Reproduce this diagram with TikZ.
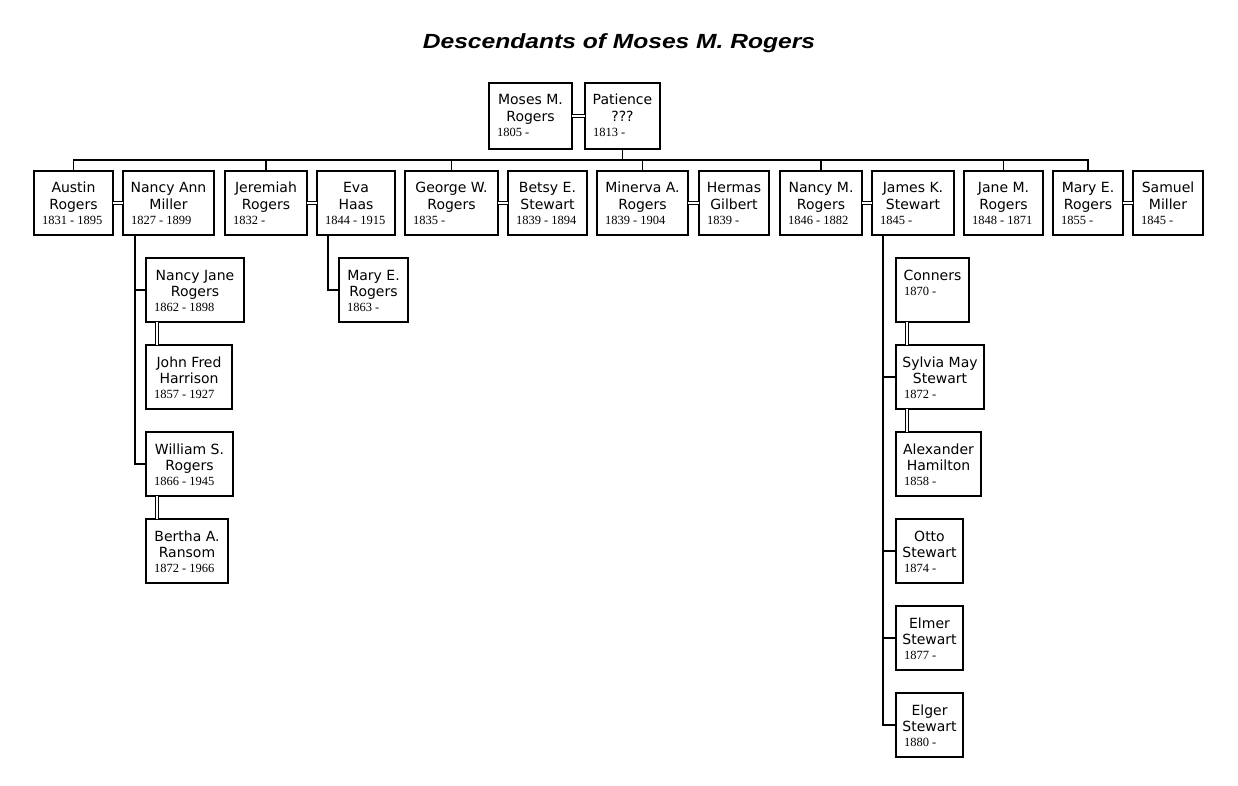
\documentclass[tikz,border=0pt]{standalone}
\usepackage{fontspec}
\usepackage{graphicx}
\newfontfamily\namefam{DejaVu Sans}
\newfontfamily\datefam{Liberation Serif}
\newfontfamily\titlefam{Liberation Sans}
\newcommand{\namefont}{\namefam\fontsize{14}{16.5}\selectfont}
\newcommand{\datefont}{\datefam\fontsize{12.5}{15}\selectfont}
% name, x, y, width, height, names, date
\newcommand{\person}[7]{%
  \node[pbox, anchor=north west] (#1) at (#2,#3) {%
    \parbox[c][#5pt][t]{#4pt}{%
      {\centering\namefont\rule{0pt}{22pt}#6\par}%
      {\raggedright\datefont\hspace*{8pt}#7\par}}};}
\begin{document}
\begin{tikzpicture}[x=1pt,y=-1pt,
  pbox/.style={draw, line width=1.2pt, inner sep=0pt, outer sep=0pt, rectangle},
  conn/.style={line width=1.2pt},
  dbl/.style={double, double distance=2.2pt, line width=1.1pt}]
\useasboundingbox (0,0) rectangle (1238,786);
\fill[white] (0,0) rectangle (1238,786);

\node[anchor=base] (title) at (619,49) {\titlefam\bfseries\itshape\fontsize{20.5}{24}\selectfont\scalebox{1.2}[1]{Descendants of Moses M. Rogers}};

\person{moses}{489}{83}{83}{66}{Moses M.\\Rogers}{1805 -}
\person{patience}{585}{83}{75}{66}{Patience\\???}{1813 -}

\person{austin}{34}{171}{79}{64}{Austin\\Rogers}{1831 - 1895}
\person{nancyann}{123}{171}{91}{64}{Nancy Ann\\Miller}{1827 - 1899}
\person{jeremiah}{225}{171}{82}{64}{Jeremiah\\Rogers}{1832 -}
\person{eva}{317}{171}{78}{64}{Eva\\Haas}{1844 - 1915}
\person{george}{405}{171}{93}{64}{George W.\\Rogers}{1835 -}
\person{betsy}{508}{171}{79}{64}{Betsy E.\\Stewart}{1839 - 1894}
\person{minerva}{597}{171}{91}{64}{Minerva A.\\Rogers}{1839 - 1904}
\person{hermas}{699}{171}{70}{64}{Hermas\\Gilbert}{1839 -}
\person{nancym}{780}{171}{82}{64}{Nancy M.\\Rogers}{1846 - 1882}
\person{james}{872}{171}{82}{64}{James K.\\Stewart}{1845 -}
\person{jane}{964}{171}{79}{64}{Jane M.\\Rogers}{1848 - 1871}
\person{marye}{1053}{171}{70}{64}{Mary E.\\Rogers}{1855 -}
\person{samuel}{1133}{171}{70}{64}{Samuel\\Miller}{1845 -}

\person{nancyjane}{146}{258}{98}{64}{Nancy Jane\\Rogers}{1862 - 1898}
\person{johnfred}{146}{345}{86}{64}{John Fred\\Harrison}{1857 - 1927}
\person{william}{146}{432}{87}{64}{William S.\\Rogers}{1866 - 1945}
\person{bertha}{146}{519}{82}{64}{Bertha A.\\Ransom}{1872 - 1966}

\person{maryechild}{339}{258}{69}{64}{Mary E.\\Rogers}{1863 -}

\person{conners}{896}{258}{73}{64}{Conners}{1870 -}
\person{sylvia}{896}{345}{88}{64}{Sylvia May\\Stewart}{1872 -}
\person{alexander}{896}{432}{85}{64}{Alexander\\Hamilton}{1858 -}
\person{otto}{896}{519}{67}{64}{Otto\\Stewart}{1874 -}
\person{elmer}{896}{606}{67}{64}{Elmer\\Stewart}{1877 -}
\person{elger}{896}{693}{67}{64}{Elger\\Stewart}{1880 -}

% couples
\draw[dbl] (moses.east) -- (patience.west);
\draw[dbl] (austin.east) -- (nancyann.west);
\draw[dbl] (jeremiah.east) -- (eva.west);
\draw[dbl] (george.east) -- (betsy.west);
\draw[dbl] (minerva.east) -- (hermas.west);
\draw[dbl] (nancym.east) -- (james.west);
\draw[dbl] (marye.east) -- (samuel.west);
\draw[dbl] ([xshift=11pt]nancyjane.south west) -- ([xshift=11pt]johnfred.north west);
\draw[dbl] ([xshift=11pt]william.south west) -- ([xshift=11pt]bertha.north west);
\draw[dbl] ([xshift=11pt]conners.south west) -- ([xshift=11pt]sylvia.north west);
\draw[dbl] ([xshift=11pt]sylvia.south west) -- ([xshift=11pt]alexander.north west);

% bus
\coordinate (bus) at (0,160);
\draw[conn] (patience.south) -- (patience.south |- bus);
\draw[conn] (austin.north) -- (austin.north |- bus) -- (marye.north |- bus) -- (marye.north);
\foreach \c in {jeremiah,george,minerva,nancym,jane}
  \draw[conn] (\c.north) -- (\c.north |- bus);

% children
\coordinate (na) at ([xshift=12pt]nancyann.south west);
\draw[conn] (na) |- (nancyjane.west);
\draw[conn] (na) |- (william.west);
\coordinate (ev) at ([xshift=11pt]eva.south west);
\draw[conn] (ev) |- (maryechild.west);
\coordinate (jk) at ([xshift=11pt]james.south west);
\draw[conn] (jk) |- (sylvia.west);
\draw[conn] (jk) |- (otto.west);
\draw[conn] (jk) |- (elmer.west);
\draw[conn] (jk) |- (elger.west);
\end{tikzpicture}
\end{document}
